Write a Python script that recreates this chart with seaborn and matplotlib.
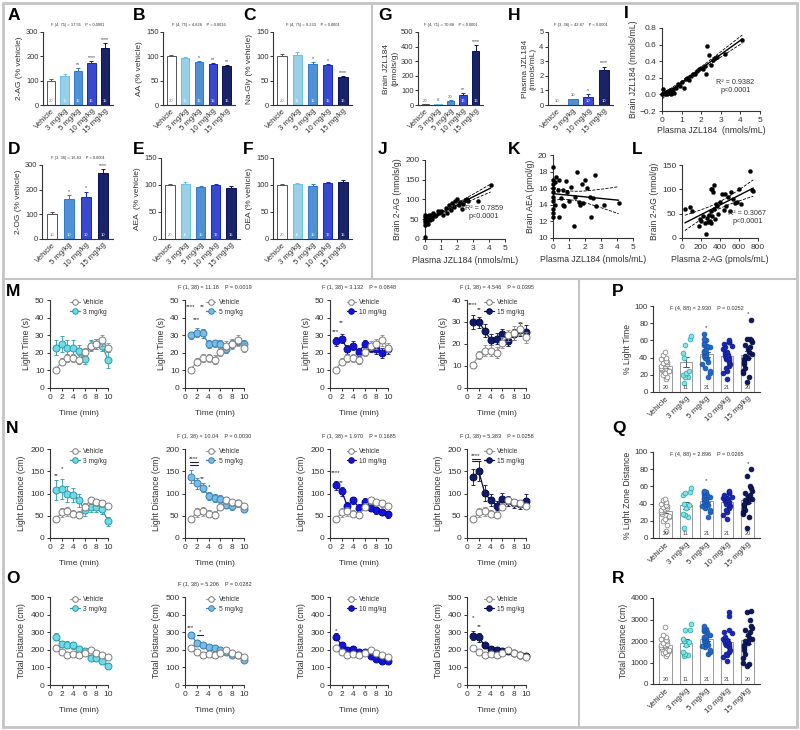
import numpy as np
import pandas as pd
import matplotlib
matplotlib.use('Agg')
import matplotlib.pyplot as plt
from matplotlib.lines import Line2D
from matplotlib.patches import Rectangle
import seaborn as sns

# ---------------- data ----------------
doses5 = ['Vehicle', '3 mg/kg', '5 mg/kg', '10 mg/kg', '15 mg/kg']
doses4 = ['Vehicle', '5 mg/kg', '10 mg/kg', '15 mg/kg']

ag_mean = [100, 118, 141, 171, 236]
ag_err = [8, 9, 12, 10, 20]
ag_stars = ['', '', '**', '****', '****']
aa_mean = [100, 96, 88, 85, 80]
aa_err = [2, 2, 3, 2, 2]
aa_stars = ['', '', '*', '**', '**']
nagly_mean = [100, 103, 85, 82, 57]
nagly_err = [4, 5, 4, 3, 3]
nagly_stars = ['', '', '*', '*', '****']
og_mean = [100, 163, 170, 267]
og_err = [10, 15, 22, 15]
og_stars = ['', '*', '*', '****']
aea_mean = [100, 102, 97, 100, 95]
aea_err = [2, 3, 2, 2, 3]
oea_mean = [100, 101, 99, 104, 106]
oea_err = [2, 3, 2, 2, 3]
brain_jzl_mean = [4, 7, 27, 68, 368]
brain_jzl_err = [1, 2, 4, 12, 45]
brain_jzl_stars = ['', '', '', '**', '****']
plasma_jzl_mean = [0.02, 0.38, 0.57, 2.38]
plasma_jzl_err = [0.01, 0.04, 0.15, 0.25]
plasma_jzl_stars = ['', '', '*', '****']
n_five = ['20', '15', '15', '15', '15']
n_four = ['10', '10', '10', '10']
n_brain_jzl = ['20', '8', '20', '16', '16']

# I: brain vs plasma JZL184
i_plasma = [0, 0.05, 0.1, 0.15, 0.2, 0.25, 0.3, 0.35, 0.4, 0.45, 0.5, 0.55, 0.6, 0.7, 0.8,
            0.9, 1.0, 1.1, 1.2, 1.3, 1.4, 1.5, 1.6, 1.7, 1.8, 1.9, 2.0, 2.1, 2.2, 2.25,
            2.3, 2.4, 2.5, 2.6, 2.7, 2.8, 3.2, 4.1]
i_brain = [0, 0.07, 0.02, 0.0, 0.03, 0.01, 0.04, 0.02, 0.05, 0.0, 0.03, 0.06, 0.02, 0.08, 0.12,
           0.1, 0.15, 0.08, 0.18, 0.2, 0.17, 0.22, 0.25, 0.24, 0.28, 0.3, 0.32, 0.31, 0.34, 0.25,
           0.58, 0.47, 0.36, 0.42, 0.44, 0.45, 0.49, 0.65]
# J: brain 2-AG vs plasma JZL184
j_plasma = [0, 0, 0, 0, 0, 0, 0.05, 0.1, 0.1, 0.15, 0.2, 0.2, 0.25, 0.3, 0.35, 0.4, 0.45, 0.5,
            0.6, 0.7, 0.8, 0.9, 1.0, 1.1, 1.3, 1.4, 1.5, 1.6, 1.7, 1.8, 1.9, 2.0, 2.1, 2.2,
            2.3, 2.4, 2.5, 2.6, 2.7, 3.3, 4.1]
j_brain = [5, 35, 42, 48, 55, 60, 40, 50, 58, 45, 38, 52, 62, 47, 55, 60, 50, 66,
           58, 62, 70, 65, 72, 60, 78, 65, 85, 73, 90, 80, 95, 100, 85, 93,
           75, 88, 98, 102, 95, 97, 137]
# K: brain AEA vs plasma JZL184
k_plasma = [0, 0, 0, 0, 0, 0, 0, 0, 0, 0, 0.1, 0.15, 0.2, 0.3, 0.4, 0.4, 0.5, 0.6, 0.6, 0.7,
            0.8, 0.9, 1.0, 1.1, 1.3, 1.4, 1.5, 1.6, 1.7, 1.8, 1.9, 2.0, 2.1, 2.3, 2.4, 2.5,
            2.6, 2.7, 3.2, 4.1]
k_aea = [18.6, 17.0, 16.5, 16.0, 15.5, 15.0, 14.5, 13.5, 13.0, 12.5, 16.8, 14.0, 17.3, 15.8,
         12.5, 17.0, 14.8, 15.8, 14.0, 13.8, 16.9, 15.5, 14.5, 16.2, 11.5, 15.0, 18.0, 14.3,
         14.0, 16.5, 14.2, 17.0, 16.0, 15.0, 12.5, 14.8, 17.6, 13.8, 14.0, 14.2]
# L: brain 2-AG vs plasma 2-AG
l_plasma = [30, 80, 100, 180, 190, 200, 220, 240, 250, 260, 270, 280, 290, 300, 300, 310, 320,
            320, 330, 340, 340, 350, 360, 370, 380, 400, 420, 440, 450, 460, 480, 500, 520,
            540, 560, 580, 600, 620, 720, 740, 750]
l_brain = [60, 63, 55, 25, 40, 35, 45, 30, 8, 42, 32, 48, 35, 30, 100, 55, 45,
           100, 95, 60, 108, 40, 70, 65, 50, 75, 90, 58, 90, 65, 85, 55, 95,
           80, 72, 75, 100, 70, 138, 98, 97]

minutes = list(range(1, 11))
# light time (s)
lt_veh = [10.5, 15, 17, 17, 16, 20.5, 24, 25, 27, 23]
lt_veh_err = [1.5, 2, 2.5, 2.5, 2.5, 2.5, 2.5, 3, 3, 2.5]
lt_3 = [23, 25, 23, 23, 21, 16.5, 24, 25, 24, 16]
lt_3_err = [4, 4.5, 4, 4, 3.5, 3, 3, 3, 3, 4.5]
lt_5 = [30, 31.5, 31, 25, 25.5, 25, 22, 25, 26.5, 25]
lt_5_err = [2, 2.5, 2.5, 2, 2, 2, 2, 2, 2, 2]
lt_10 = [26.5, 28, 22, 24, 20.5, 25, 23, 22, 20, 22]
lt_10_err = [2.5, 2.5, 2.5, 2.5, 2.5, 2.5, 2.5, 2.5, 3, 2.5]
lt_15 = [30, 30, 26, 22, 22.5, 24.5, 21.5, 24.5, 26.5, 25.5]
lt_15_err = [3, 2.5, 3, 2.5, 2.5, 2.5, 2.5, 2.5, 3, 3]
# light distance (cm)
ld_veh = [42, 58, 60, 55, 52, 70, 85, 80, 78, 72]
ld_veh_err = [7, 10, 10, 8, 8, 8, 8, 8, 8, 7]
ld_3 = [108, 110, 98, 97, 85, 62, 70, 70, 65, 38]
ld_3_err = [22, 22, 18, 16, 15, 12, 12, 12, 12, 10]
ld_5 = [138, 123, 113, 95, 90, 88, 75, 72, 78, 65]
ld_5_err = [14, 12, 10, 9, 8, 8, 8, 8, 8, 7]
ld_10 = [118, 105, 72, 85, 68, 82, 68, 62, 58, 53]
ld_10_err = [10, 10, 8, 8, 8, 8, 8, 8, 7, 7]
ld_15 = [137, 150, 101, 85, 73, 88, 83, 78, 76, 84]
ld_15_err = [18, 22, 18, 14, 10, 14, 12, 10, 10, 15]
# total distance (cm)
td_veh = [210, 185, 168, 175, 168, 180, 200, 180, 170, 160]
td_veh_err = [15, 12, 12, 12, 12, 12, 12, 12, 12, 12]
td_3 = [275, 232, 230, 225, 205, 195, 155, 155, 135, 110]
td_3_err = [20, 18, 18, 18, 15, 15, 15, 15, 15, 15]
td_5 = [285, 240, 225, 215, 210, 200, 190, 170, 170, 140]
td_5_err = [15, 15, 12, 12, 12, 12, 12, 12, 12, 12]
td_10 = [275, 225, 200, 205, 185, 185, 165, 150, 135, 135]
td_10_err = [20, 18, 15, 15, 12, 12, 12, 12, 12, 12]
td_15 = [280, 270, 225, 205, 200, 195, 195, 180, 170, 165]
td_15_err = [25, 25, 15, 15, 12, 12, 12, 12, 12, 12]

# P: % light time, individual animals
p_veh = [15, 18, 20, 22, 24, 25, 26, 27, 28, 30, 30, 32, 33, 34, 35, 36, 38, 40, 43, 46]
p_3 = [10, 18, 18, 20, 22, 25, 40, 45, 55, 62, 65]
p_5 = [18, 22, 25, 28, 32, 35, 38, 40, 42, 43, 45, 47, 48, 50, 52, 54, 55, 57, 60, 62, 68]
p_10 = [15, 22, 25, 28, 30, 32, 35, 37, 38, 40, 42, 43, 45, 47, 50, 52, 54, 56, 58, 58, 60]
p_15 = [12, 18, 22, 25, 28, 32, 35, 38, 40, 42, 44, 46, 50, 52, 55, 58, 60, 62, 62, 84]
# Q: % light zone distance
q_veh = [8, 15, 20, 22, 25, 26, 28, 30, 30, 32, 33, 34, 35, 36, 37, 38, 40, 42, 44, 45]
q_3 = [12, 25, 27, 28, 35, 38, 40, 50, 52, 53, 58]
q_5 = [25, 30, 33, 35, 37, 38, 40, 40, 42, 43, 44, 45, 46, 48, 48, 50, 50, 52, 53, 54, 55]
q_10 = [22, 27, 30, 32, 35, 37, 38, 40, 40, 42, 43, 44, 45, 46, 47, 48, 48, 50, 52, 53, 55]
q_15 = [12, 25, 28, 30, 33, 35, 38, 40, 42, 44, 45, 47, 48, 50, 52, 55, 58, 60, 72, 80]
# R: total distance
r_veh = [1300, 1400, 1450, 1500, 1550, 1600, 1650, 1700, 1700, 1750, 1800, 1800, 1850, 1900,
         2000, 2050, 2100, 2200, 2300, 2650]
r_3 = [1300, 1350, 1400, 1500, 1800, 1950, 2000, 2100, 2500, 2500, 2800]
r_5 = [1400, 1500, 1600, 1700, 1750, 1800, 1900, 1950, 2000, 2050, 2100, 2150, 2200, 2250,
       2300, 2400, 2450, 2500, 2550, 2600, 2700]
r_10 = [1050, 1250, 1350, 1400, 1500, 1600, 1700, 1750, 1800, 1850, 1900, 1950, 2000, 2050,
        2100, 2200, 2350, 2400, 2500, 3150, 3350]
r_15 = [850, 950, 1000, 1200, 1400, 1600, 1700, 1800, 1900, 2000, 2100, 2100, 2300, 2400,
        2500, 2600, 2700, 3000, 3350, 3400]

# ---------------- style ----------------
sns.set_style('ticks')
plt.rcParams['font.family'] = ['Liberation Sans', 'DejaVu Sans']
plt.rcParams['axes.linewidth'] = 0.8
plt.rcParams['axes.edgecolor'] = '#333333'
plt.rcParams['xtick.color'] = '#333333'
plt.rcParams['ytick.color'] = '#333333'
plt.rcParams['text.color'] = '#333333'
plt.rcParams['axes.labelcolor'] = '#333333'

bar_face = {'Vehicle': 'white', '3 mg/kg': '#8dd4f5', '5 mg/kg': '#3b8fe8',
            '10 mg/kg': '#1f36e8', '15 mg/kg': '#0c1a73'}
bar_edge = {'Vehicle': '#555555', '3 mg/kg': '#6cbfe6', '5 mg/kg': '#2a7ad6',
            '10 mg/kg': '#1626c8', '15 mg/kg': '#081259'}
line_face = {'3 mg/kg': '#6fdbe6', '5 mg/kg': '#79bde6', '10 mg/kg': '#1414d8', '15 mg/kg': '#0d1a70'}
line_edge = {'3 mg/kg': '#2a9aaa', '5 mg/kg': '#3a7fb0', '10 mg/kg': '#0a0a90', '15 mg/kg': '#060d40'}
pt_face = {'Vehicle': 'white', '3 mg/kg': '#8fe0e0', '5 mg/kg': '#2269c9',
           '10 mg/kg': '#1a28b5', '15 mg/kg': '#0c175f'}
pt_edge = {'Vehicle': '#8a8a8a', '3 mg/kg': '#2ab0b4', '5 mg/kg': '#1a55a8',
           '10 mg/kg': '#101c90', '15 mg/kg': '#070f45'}

W, H = 800, 730
fig = plt.figure(figsize=(W / 100, H / 100), dpi=100)


def px_axes(l, t, r, b):
    return fig.add_axes([l / W, 1 - b / H, (r - l) / W, (b - t) / H])


def letter(x, y, s):
    fig.text(x / W, 1 - y / H, s, fontsize=12.5, fontweight='bold', color='black', va='top', ha='left')


def bar_panel(rect, cats, means, errs, ns, ylim, yticks, ylabel, stars=None, ftext=None):
    ax = px_axes(*rect)
    df = pd.DataFrame({'dose': cats, 'value': means})
    sns.barplot(data=df, x='dose', y='value', hue='dose', palette=bar_face, legend=False,
                width=0.62, errorbar=None, linewidth=0.7, ax=ax)
    for p, c in zip(ax.patches, cats):
        p.set_edgecolor(bar_edge[c])
    for i, (m, e, c) in enumerate(zip(means, errs, cats)):
        ax.errorbar(i, m, yerr=[[0], [e]], fmt='none', ecolor=bar_edge[c], elinewidth=0.7,
                    capsize=1.6, capthick=0.7)
        if m < ylim[1] * 0.1:
            # bar too short: sample size sits above it
            ax.text(i, m + e + ylim[1] * 0.02, ns[i], ha='center', va='bottom', fontsize=3,
                    color='#555555')
        else:
            ax.text(i, ylim[1] * 0.025, ns[i], ha='center', va='bottom', fontsize=3,
                    color='#777777' if c == 'Vehicle' else 'white')
        if stars and stars[i]:
            ax.text(i, m + e + ylim[1] * 0.015, stars[i], ha='center', va='bottom', fontsize=3.6)
    ax.set_ylim(*ylim)
    ax.set_yticks(yticks)
    ax.set_xlim(-0.6, len(cats) - 0.4)
    ax.set_xticks(range(len(cats)))
    ax.set_xticklabels(cats, rotation=45, ha='right', rotation_mode='anchor', fontsize=5.6)
    ax.set_xlabel('')
    ax.set_ylabel(ylabel, fontsize=6, labelpad=2)
    ax.tick_params(axis='y', labelsize=5.4, length=2.2, width=0.7, pad=1)
    ax.tick_params(axis='x', length=0, pad=2)
    if ftext:
        ax.text(0.5, 1.1, ftext, transform=ax.transAxes, ha='center', va='center', fontsize=2.9)
    sns.despine(ax=ax)
    return ax


def line_panel(rect, veh, veh_err, drug, drug_err, dose, ylim, yticks, ylabel, stars, ftext=None, bars=None):
    ax = px_axes(*rect)
    ax.errorbar(minutes, drug, yerr=drug_err, fmt='none', ecolor=line_edge[dose], elinewidth=0.6,
                capsize=1.6, capthick=0.6, zorder=2, clip_on=False)
    sns.lineplot(x=minutes, y=drug, color=line_edge[dose], linewidth=0.9, marker='o', markersize=5,
                 markerfacecolor=line_face[dose], markeredgecolor=line_edge[dose],
                 markeredgewidth=0.7, errorbar=None, ax=ax, zorder=3, clip_on=False)
    ax.errorbar(minutes, veh, yerr=veh_err, fmt='none', ecolor='#8a8a8a', elinewidth=0.6,
                capsize=1.6, capthick=0.6, zorder=4, clip_on=False)
    sns.lineplot(x=minutes, y=veh, color='#9a9a9a', linewidth=0.9, marker='o', markersize=5,
                 markerfacecolor='white', markeredgecolor='#7a7a7a', markeredgewidth=0.7,
                 errorbar=None, ax=ax, zorder=5, clip_on=False)
    for x, y, s in stars:
        ax.text(x, y, s, ha='center', va='center', fontsize=4.5, color='#222222')
    if bars:
        for x0, x1, y in bars:
            ax.plot([x0, x1], [y, y], color='#222222', lw=0.8, clip_on=False)
    handles = [Line2D([], [], color='#9a9a9a', lw=0.9, marker='o', ms=4, mfc='white', mec='#7a7a7a', mew=0.7),
               Line2D([], [], color=line_edge[dose], lw=0.9, marker='o', ms=4, mfc=line_face[dose],
                      mec=line_edge[dose], mew=0.7)]
    ax.legend(handles, ['Vehicle', dose], loc='upper right', bbox_to_anchor=(1.02, 1.04), frameon=False,
              fontsize=4.8, handlelength=1.4, handletextpad=0.5, labelspacing=0.4, borderaxespad=0)
    ax.set_xlim(0, 10)
    ax.set_xticks([0, 2, 4, 6, 8, 10])
    ax.set_ylim(*ylim)
    ax.set_yticks(yticks)
    ax.set_xlabel('Time (min)', fontsize=6, labelpad=7)
    ax.set_ylabel(ylabel, fontsize=6.3, labelpad=3)
    ax.tick_params(labelsize=6, length=2.5, width=0.7, pad=1.5)
    if ftext:
        ax.text(0.5, 1.14, ftext, transform=ax.transAxes, ha='center', va='center', fontsize=4)
    sns.despine(ax=ax)
    return ax


def reg_panel(rect, x, y, xlim, xticks, ylim, yticks, xlabel, ylabel, rtext=None, rpos=None,
              xlabelpad=3, ylabelpad=2):
    ax = px_axes(*rect)
    x = np.asarray(x, dtype=float)
    y = np.asarray(y, dtype=float)
    sns.scatterplot(x=x, y=y, color='black', s=9, edgecolor='black', linewidth=0.2, ax=ax,
                    zorder=3, clip_on=False)
    slope, icpt = np.polyfit(x, y, 1)
    xs = np.linspace(x.min(), x.max(), 100)
    yhat = icpt + slope * xs
    resid = y - (icpt + slope * x)
    n = len(x)
    s = np.sqrt(np.sum(resid ** 2) / (n - 2))
    sxx = np.sum((x - x.mean()) ** 2)
    ci = 2.02 * s * np.sqrt(1 / n + (xs - x.mean()) ** 2 / sxx)
    ax.plot(xs, yhat, color='black', lw=1.0, zorder=4)
    ax.plot(xs, yhat + ci, color='black', lw=0.6, ls='--', zorder=4)
    ax.plot(xs, yhat - ci, color='black', lw=0.6, ls='--', zorder=4)
    ax.set_xlim(*xlim)
    ax.set_xticks(xticks)
    ax.set_ylim(*ylim)
    ax.set_yticks(yticks)
    ax.set_xlabel(xlabel, fontsize=6.2, labelpad=xlabelpad)
    ax.set_ylabel(ylabel, fontsize=6.2, labelpad=ylabelpad)
    ax.tick_params(labelsize=6, length=2.5, width=0.7, pad=1.5)
    if rtext:
        ax.text(rpos[0], rpos[1], rtext, transform=ax.transAxes, ha='center', va='center', fontsize=5.2)
    sns.despine(ax=ax)
    return ax


def dot_panel(rect, groups, ns, ylim, yticks, ylabel, stars, ftext):
    ax = px_axes(*rect)
    df = pd.DataFrame({'dose': np.repeat(doses5, [len(g) for g in groups]),
                       'value': np.concatenate(groups)})
    sns.barplot(data=df, x='dose', y='value', order=doses5, color='white', edgecolor='#9a9a9a',
                linewidth=0.7, width=0.6, errorbar='se', capsize=0.3,
                err_kws={'linewidth': 0.7, 'color': '#555555'}, ax=ax)
    np.random.seed(3)
    for d in doses5:
        sns.stripplot(data=df[df['dose'] == d], x='dose', y='value', order=doses5, color=pt_face[d],
                      edgecolor=pt_edge[d], linewidth=0.6, size=3.4, jitter=0.24, ax=ax, zorder=3)
    for i, n in enumerate(ns):
        ax.text(i, ylim[1] * 0.02, n, ha='center', va='bottom', fontsize=4, color='#444444')
    for i, y, s in stars:
        ax.text(i, y, s, ha='center', va='center', fontsize=4.5)
    ax.set_ylim(*ylim)
    ax.set_yticks(yticks)
    ax.set_xlim(-0.6, 4.6)
    ax.set_xticks(range(5))
    ax.set_xticklabels(doses5, rotation=45, ha='right', rotation_mode='anchor', fontsize=5.8)
    ax.set_xlabel('')
    ax.set_ylabel(ylabel, fontsize=6.2, labelpad=2)
    ax.tick_params(axis='y', labelsize=5.8, length=2.5, width=0.7, pad=1)
    ax.tick_params(axis='x', length=0, pad=2)
    if ftext:
        ax.text(0.5, 0.97, ftext, transform=ax.transAxes, ha='center', va='center', fontsize=4)
    sns.despine(ax=ax)
    return ax


# ---------------- panels A-F ----------------
bar_panel((43, 32, 113, 105), doses5, ag_mean, ag_err, n_five, (0, 300), [0, 100, 200, 300],
          '2-AG (% vehicle)', ag_stars, 'F (4, 75) = 17.55    P < 0.0001')
bar_panel((163, 32, 235, 105), doses5, aa_mean, aa_err, n_five, (0, 150), [0, 50, 100, 150],
          'AA (% vehicle)', aa_stars, 'F (4, 75) = 4.826    P = 0.0016')
bar_panel((273, 32, 352, 105), doses5, nagly_mean, nagly_err, n_five, (0, 150), [0, 50, 100, 150],
          'Na-Gly (% vehicle)', nagly_stars, 'F (4, 75) = 9.233    P < 0.0001')
bar_panel((42, 165, 113, 239), doses4, og_mean, og_err, n_four, (0, 300), [0, 100, 200, 300],
          '2-OG (% vehicle)', og_stars, 'F (3, 36) = 16.83    P = 0.0001')
bar_panel((161, 158, 240, 239), doses5, aea_mean, aea_err, n_five, (0, 150), [0, 50, 100, 150],
          'AEA  (% vehicle)')
bar_panel((273, 158, 352, 239), doses5, oea_mean, oea_err, n_five, (0, 150), [0, 50, 100, 150],
          'OEA (% vehicle)')

# ---------------- panels G-L ----------------
bar_panel((418, 32, 483, 105), doses5, brain_jzl_mean, brain_jzl_err, n_brain_jzl, (0, 500),
          [0, 100, 200, 300, 400, 500], 'Brain JZL184\n(pmols/g)', brain_jzl_stars,
          'F (4, 71) = 70.88    P < 0.0001')
bar_panel((548, 32, 613, 105), doses4, plasma_jzl_mean, plasma_jzl_err, n_four, (0, 5),
          [0, 1, 2, 3, 4, 5], 'Plasma JZL184\n(nmols/mL)', plasma_jzl_stars,
          'F (3, 36) = 42.87    P < 0.0001')
reg_panel((662, 28, 760, 111), i_plasma, i_brain, (0, 5), [0, 1, 2, 3, 4, 5], (-0.2, 0.8),
          [-0.2, 0.0, 0.2, 0.4, 0.6, 0.8], 'Plasma JZL184  (nmols/mL)', 'Brain JZL184 (nmols/mL)',
          'R² = 0.9382\np<0.0001', (0.75, 0.3), xlabelpad=2, ylabelpad=1)
reg_panel((425, 160, 505, 239), j_plasma, j_brain, (0, 5), [0, 1, 2, 3, 4, 5], (0, 200),
          [0, 50, 100, 150, 200], 'Plasma JZL184 (nmols/mL)', 'Brain 2-AG (nmols/g)',
          'R² = 0.7859\np<0.0001', (0.74, 0.33))
reg_panel((553, 155, 633, 238), k_plasma, k_aea, (0, 5), [0, 1, 2, 3, 4, 5], (10, 20),
          [10, 12, 14, 16, 18, 20], 'Plasma JZL184 (nmols/mL)', 'Brain AEA (pmol/g)')
reg_panel((682, 165, 758, 238), l_plasma, l_brain, (0, 800), [0, 200, 400, 600, 800], (0, 150),
          [0, 50, 100, 150], 'Plasma 2-AG (pmols/mL)', 'Brain 2-AG (nmol/g)',
          'R² = 0.3067\np<0.0001', (0.86, 0.28))

# ---------------- panels M-O ----------------
cols_x = [(50, 108), (185, 244), (330, 388), (467, 526)]
drug_doses = ['3 mg/kg', '5 mg/kg', '10 mg/kg', '15 mg/kg']

m_data = [(lt_3, lt_3_err), (lt_5, lt_5_err), (lt_10, lt_10_err), (lt_15, lt_15_err)]
m_ylims = [(0, 50), (0, 50), (0, 50), (0, 40)]
m_stars = [[], [(1, 46, '****'), (3, 46, '**'), (2, 39, '***')],
           [(1, 32, '***'), (2, 37, '**')], [(1, 38, '****'), (2, 35.5, '**')]]
m_f = [None, 'F (1, 38) = 11.18    P = 0.0019', 'F (1, 38) = 3.132    P = 0.0848',
       'F (1, 38) = 4.546    P = 0.0395']
for k in range(4):
    l, r = cols_x[k]
    line_panel((l, 300, r, 388), lt_veh, lt_veh_err, m_data[k][0], m_data[k][1], drug_doses[k],
               m_ylims[k], list(range(0, m_ylims[k][1] + 1, 10)), 'Light Time (s)', m_stars[k], m_f[k])

n_data = [(ld_3, ld_3_err), (ld_5, ld_5_err), (ld_10, ld_10_err), (ld_15, ld_15_err)]
n_stars = [[(1, 141, '**'), (2, 155, '*')],
           [(1.5, 178, '****'), (3, 133, '**'), (4, 115, '*')],
           [(0.9, 146, '****'), (2, 124, '**')],
           [(1.5, 186, '****')]]
n_bars = [None, [(0.8, 2.2, 170), (0.8, 2.2, 164)], None, [(0.8, 2.2, 178), (0.8, 2.2, 172)]]
n_f = [None, 'F (1, 38) = 10.04    P = 0.0030', 'F (1, 38) = 1.970    P = 0.1685',
       'F (1, 38) = 5.383    P = 0.0258']
for k in range(4):
    l, r = cols_x[k]
    line_panel((l, 449, r, 538), ld_veh, ld_veh_err, n_data[k][0], n_data[k][1], drug_doses[k],
               (0, 200), [0, 50, 100, 150, 200], 'Light Distance (cm)', n_stars[k], n_f[k], n_bars[k])

o_data = [(td_3, td_3_err), (td_5, td_5_err), (td_10, td_10_err), (td_15, td_15_err)]
o_stars = [[], [(1, 324, '***'), (2.5, 302, '*')], [(1, 312, '*')], [(1, 382, '*'), (2, 332, '**')]]
o_bars = [None, [(2, 3, 284)], None, None]
o_f = [None, 'F (1, 38) = 5.206    P = 0.0282', None, None]
for k in range(4):
    l, r = cols_x[k]
    line_panel((l, 597, r, 685), td_veh, td_veh_err, o_data[k][0], o_data[k][1], drug_doses[k],
               (0, 500), [0, 100, 200, 300, 400, 500], 'Total Distance (cm)', o_stars[k], o_f[k], o_bars[k])

# ---------------- panels P-R ----------------
n_behav = ['20', '11', '21', '21', '20']
dot_panel((653, 306, 760, 392), [p_veh, p_3, p_5, p_10, p_15], n_behav, (0, 100),
          [0, 20, 40, 60, 80, 100], '% Light Time', [(2, 75, '*'), (4, 91, '*')],
          'F (4, 88) = 2.930    P = 0.0252')
dot_panel((653, 452, 760, 538), [q_veh, q_3, q_5, q_10, q_15], n_behav, (0, 100),
          [0, 20, 40, 60, 80, 100], '% Light Zone Distance', [(2, 67, '*'), (4, 87, '*')],
          'F (4, 88) = 2.896    P = 0.0265')
dot_panel((653, 598, 760, 684), [r_veh, r_3, r_5, r_10, r_15], n_behav, (0, 4000),
          [0, 1000, 2000, 3000, 4000], 'Total Distance (cm)', [], None)

# ---------------- letters and frame ----------------
for s, x, y in [('A', 8, 8), ('B', 133, 8), ('C', 243, 8), ('D', 8, 142), ('E', 133, 142),
                ('F', 243, 142), ('G', 378, 8), ('H', 508, 8), ('I', 624, 6), ('J', 378, 142),
                ('K', 508, 142), ('L', 632, 142), ('M', 6, 284), ('N', 6, 421), ('O', 6, 571),
                ('P', 612, 284), ('Q', 612, 421), ('R', 612, 571)]:
    letter(x, y, s)

frame = '#c4c4c4'
fig.patches.append(Rectangle((3 / W, 3 / H), 794 / W, 724 / H, transform=fig.transFigure,
                             fill=False, ec=frame, lw=2))
for (x0, y0), (x1, y1) in [((3, 279), (797, 279)), ((372, 3), (372, 279)), ((579, 279), (579, 727))]:
    fig.add_artist(Line2D([x0 / W, x1 / W], [1 - y0 / H, 1 - y1 / H], transform=fig.transFigure,
                          color=frame, lw=1.5))

fig.savefig('out.png', dpi=100, facecolor='white')
